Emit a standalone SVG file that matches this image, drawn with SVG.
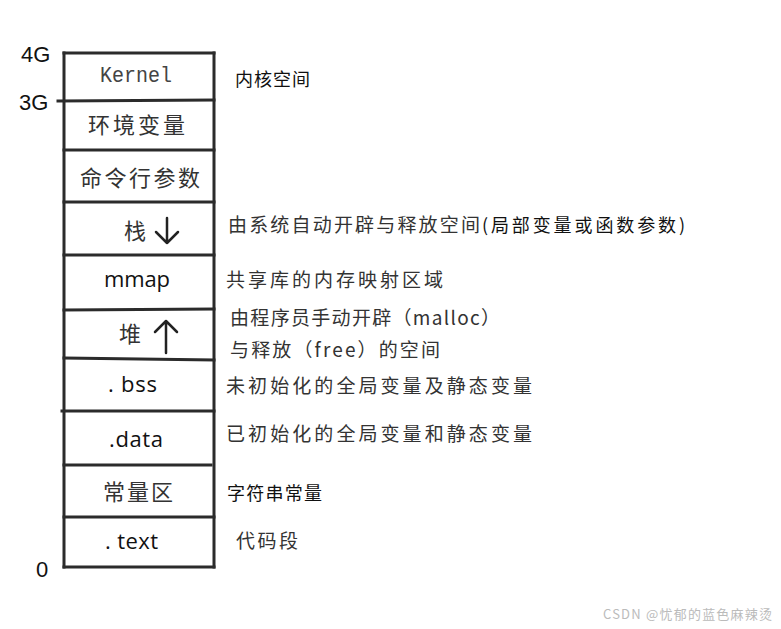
<svg xmlns="http://www.w3.org/2000/svg" width="781" height="629" viewBox="0 0 781 629">
<style>
.ln{stroke:#2b2b2b;stroke-width:3;fill:none;stroke-linecap:square}
.ax{font-family:"Liberation Sans","Noto Sans",sans-serif;font-size:22px;fill:#111}
.cn{font-family:"Noto Sans CJK SC",sans-serif;font-size:22px;fill:#333}
.en{font-family:"Open Sans","Liberation Sans",sans-serif;font-size:22px;fill:#111}
.rt{font-family:"Noto Sans CJK SC",sans-serif;font-size:19px;fill:#333}
.rb{font-family:"Noto Sans CJK SC",sans-serif;font-size:18px;fill:#111}
.ar{stroke:#222;stroke-width:2.5;fill:none;stroke-linecap:round;stroke-linejoin:round}
</style>
<rect width="781" height="629" fill="#fff"/>
<g id="axis">
<text class="ax" x="21" y="62">4G</text>
<text class="ax" x="19" y="110">3G</text>
<text class="ax" x="36" y="577">0</text>
</g>
<g id="connectors">
<line class="ln" x1="64" y1="53" x2="64" y2="567"/>
<line class="ln" x1="214" y1="53" x2="214" y2="567"/>
<line class="ln" x1="64" y1="53" x2="214" y2="53"/>
<line class="ln" x1="58" y1="101" x2="214" y2="100"/>
<line class="ln" x1="64" y1="150" x2="214" y2="150"/>
<line class="ln" x1="64" y1="202" x2="214" y2="202"/>
<line class="ln" x1="64" y1="255" x2="214" y2="255"/>
<line class="ln" x1="64" y1="310" x2="214" y2="309"/>
<line class="ln" x1="64" y1="358" x2="214" y2="360"/>
<line class="ln" x1="62" y1="411" x2="214" y2="411"/>
<line class="ln" x1="64" y1="465" x2="211" y2="465"/>
<line class="ln" x1="64" y1="517" x2="214" y2="517"/>
<line class="ln" x1="64" y1="567" x2="214" y2="567"/>
</g>
<g id="kernel">
<text x="100" y="82" font-family="Liberation Mono,monospace" font-size="22" fill="#444" textLength="72" lengthAdjust="spacingAndGlyphs">Kernel</text>
<text class="rb" x="235" y="86" textLength="75">内核空间</text>
</g>
<g id="env"><text class="cn" x="88" y="133" textLength="97">环境变量</text></g>
<g id="args"><text class="cn" x="80" y="186" textLength="120">命令行参数</text></g>
<g id="stack">
<text class="cn" x="124" y="239">栈</text>
<path class="ar" d="M167 218 V243 M156 232 L167 243 L178 232"/>
<text class="rt" x="228" y="232" textLength="252">由系统自动开辟与释放空间</text>
<text class="rb" x="482" y="232" textLength="203">(局部变量或函数参数)</text>
</g>
<g id="mmap">
<text class="en" x="104" y="287" textLength="66">mmap</text>
<text class="rt" x="226" y="287" textLength="217">共享库的内存映射区域</text>
</g>
<g id="heap">
<text class="cn" x="119" y="342">堆</text>
<path class="ar" d="M166 353 V321 M155 332 L166 321 L177 332"/>
<text class="rt" x="230" y="325" textLength="270">由程序员手动开辟（malloc）</text>
<text class="rt" x="230" y="357" textLength="210">与释放（free）的空间</text>
</g>
<g id="bss">
<text class="en" x="108" y="392" textLength="49">. bss</text>
<text class="rt" x="226" y="393" textLength="306">未初始化的全局变量及静态变量</text>
</g>
<g id="data">
<text class="en" x="109" y="447" textLength="54">.data</text>
<text class="rt" x="226" y="441" textLength="306">已初始化的全局变量和静态变量</text>
</g>
<g id="const">
<text class="cn" x="103" y="500" textLength="70">常量区</text>
<text class="rb" x="227" y="500" textLength="95">字符串常量</text>
</g>
<g id="text">
<text class="en" x="105" y="549" textLength="53">. text</text>
<text class="rt" x="236" y="548" textLength="62">代码段</text>
</g>
<text x="603" y="619" font-family="Noto Sans CJK SC,sans-serif" font-size="13" fill="#bbb" textLength="169">CSDN @忧郁的蓝色麻辣烫</text>
</svg>
